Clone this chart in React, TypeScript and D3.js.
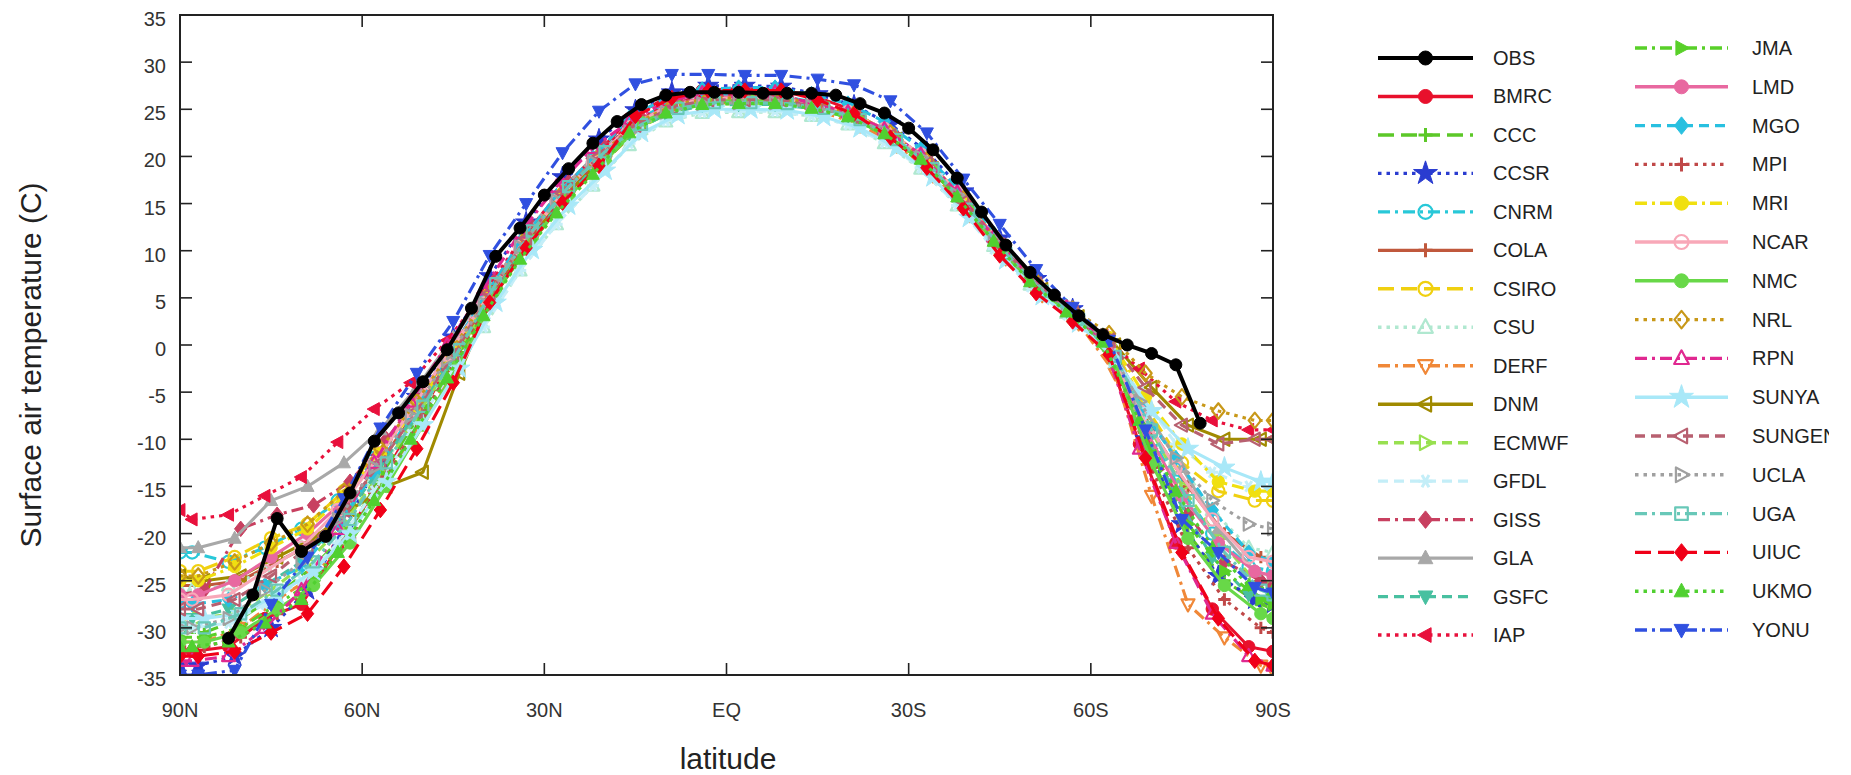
import React from "react";
import * as d3 from "d3";

// ---------- axes ----------
const X_TICKS = [90, 60, 30, 0, -30, -60, -90];
const X_TICK_LABELS = ["90N", "60N", "30N", "EQ", "30S", "60S", "90S"];
const Y_TICKS = [35, 30, 25, 20, 15, 10, 5, 0, -5, -10, -15, -20, -25, -30, -35];

// ---------- latitude grids ----------
const LAT_OBS = [82, 78, 74, 70, 66, 62, 58, 54, 50, 46, 42, 38, 34, 30, 26, 22, 18, 14, 10, 6, 2, -2, -6, -10, -14, -18, -22, -26, -30, -34, -38, -42, -46, -50, -54, -58, -62, -66, -70, -74, -78];
const LAT_GA = [90, 88, 82, 76, 70, 64, 58, 52, 46, 40, 34, 28, 22, 16, 10, 4, -2, -8, -14, -20, -26, -32, -38, -44, -50, -56, -62, -68, -74, -80, -86, -90];
const LAT_GB = [90, 86, 80, 74, 68, 62, 56, 50, 44, 38, 32, 26, 20, 14, 8, 2, -4, -10, -16, -22, -28, -34, -40, -46, -52, -58, -64, -70, -76, -82, -88, -90];
const LAT_GC = [90, 87, 81, 75, 69, 63, 57, 51, 45, 39, 33, 27, 21, 15, 9, 3, -3, -9, -15, -21, -27, -33, -39, -45, -51, -57, -63, -69, -75, -81, -87, -90];

// ---------- values (Surface air temperature, C) ----------
const OBS = [-31.1, -26.5, -18.4, -21.9, -20.3, -15.7, -10.2, -7.2, -3.9, -0.5, 3.9, 9.4, 12.4, 15.9, 18.7, 21.4, 23.7, 25.5, 26.5, 26.8, 26.8, 26.8, 26.7, 26.7, 26.7, 26.5, 25.6, 24.6, 23.0, 20.7, 17.7, 14.1, 10.6, 7.7, 5.3, 3.1, 1.1, 0.0, -0.9, -2.1, -8.3];
const BMRC = [-32.5, -32.5, -32, -29, -27.5, -21.5, -15.5, -9, -2.5, 4, 10, 15.3, 19.8, 24, 26.2, 27, 27.2, 27.1, 26.5, 25.1, 22.6, 19.7, 15.7, 11, 6.8, 3.6, 0.5, -10.5, -21, -28, -32, -32.5];
const CCC = [-30.5, -30.5, -29, -26.5, -23.5, -19.5, -13, -7, -0.8, 5.5, 11, 15.8, 19.6, 23.2, 25, 25.7, 25.7, 25.6, 25, 23.6, 21.4, 18.2, 13.9, 9.3, 5.5, 2.6, -1.5, -12, -20, -25, -27.5, -28];
const CCSR = [-34, -34, -33, -30, -26, -19.5, -12, -5.5, 0.8, 7.3, 13, 17.8, 21.8, 24.9, 26.8, 27.5, 27.5, 27.4, 26.6, 25.4, 23.4, 20.5, 16.3, 11.3, 7, 3.8, 0.3, -10, -19, -24.5, -27, -27.5];
const CNRM = [-22, -22, -23, -21.5, -19.5, -16.5, -12, -6.8, -1.2, 4.4, 10.4, 15.3, 19.4, 23.4, 25.5, 26.4, 26.5, 26.5, 25.8, 24.7, 22.8, 20, 16, 11.3, 7, 3.8, 0.8, -7.5, -14.5, -20, -23.5, -24];
const COLA = [-25.5, -25.5, -25, -23, -21, -17, -11.5, -6, 0.2, 6, 11.6, 16.3, 20, 23.7, 25.4, 26, 26, 25.9, 25.1, 23.9, 21.7, 18.6, 14.3, 9.6, 5.7, 2.8, -1, -9, -15, -20, -22.5, -23];
const CSIRO = [-24, -24, -22.5, -20.5, -19, -15.5, -11, -6, -0.5, 5.2, 11, 15.8, 19.7, 23.1, 25, 25.8, 25.8, 25.8, 25.2, 24.2, 22.2, 19.3, 15.3, 10.6, 6.5, 3.5, 0.5, -6.5, -12.5, -15.5, -16.5, -16.5];
const CSU = [-26, -26, -25.5, -24, -21.5, -18.5, -14, -8.5, -2.8, 1.9, 7.9, 12.8, 16.9, 21.2, 23.7, 24.6, 24.7, 24.7, 24.3, 23.4, 21.4, 18.7, 14.8, 10.5, 6.4, 3.4, 0.4, -6, -12, -17.5, -21.5, -22];
const DERF = [-31.5, -31.5, -30, -27, -24.5, -20, -14, -8, -1.5, 5.5, 11.1, 15.8, 19.5, 23.4, 25.1, 25.7, 25.7, 25.6, 24.7, 23.3, 21.2, 18, 13.8, 9.2, 5.3, 2.3, -3, -16, -27.5, -31, -34, -34.5];
const DNM = [-24.5, -25, -24.5, -22.5, -20.5, -17.5, -15, -13.5, -3, 6, 11.6, 16.3, 20, 23.5, 25.2, 25.8, 25.8, 25.7, 25.1, 23.9, 21.8, 18.7, 14.4, 9.8, 5.9, 3, 0, -4.5, -8.5, -10, -10, -10];
const ECMWF = [-29, -29, -28.5, -26, -23, -19, -13.5, -7.5, -1.5, 4.5, 10.3, 15.1, 19, 22.9, 24.8, 25.6, 25.6, 25.6, 25, 24, 22, 19.1, 15, 10.3, 6.1, 3.1, 0, -8, -15, -20.5, -25, -25.5];
const GFDL = [-30, -30, -29.5, -27.5, -25, -21, -15.5, -9.5, -3.5, 1.9, 7.9, 12.8, 16.9, 21.4, 23.8, 24.7, 24.8, 24.8, 24.3, 23.4, 21.5, 18.8, 14.8, 10.2, 6.2, 3.2, 0.2, -5, -10.5, -13.5, -15, -15];
const GISS = [-26.5, -26, -19.5, -18, -17, -14.5, -10, -5, 0.8, 7, 12.6, 17.3, 21, 24.1, 25.8, 26.4, 26.4, 26.3, 25.4, 24.2, 22.1, 19, 14.7, 10, 6, 3, -1, -11, -18, -23, -25, -25.5];
const GLA = [-21.5, -21.5, -20.5, -16.5, -15, -12.5, -9, -4.5, 0.8, 6, 11.8, 16.6, 20.5, 23.3, 25.2, 26, 26, 26, 25.5, 24.5, 22.5, 19.6, 15.5, 10.8, 6.6, 3.5, 0.3, -7, -13, -19.5, -24, -24.5];
const GSFC = [-29, -29, -28, -25.5, -23, -19, -14, -8, -2, 3.7, 9.7, 14.6, 18.7, 22.4, 24.5, 25.4, 25.5, 25.5, 25.1, 24.2, 22.4, 19.7, 15.7, 11, 6.8, 3.6, 0.5, -8, -16, -22.5, -26.5, -27];
const IAP = [-17.5, -18.5, -18, -16, -14, -10.3, -6.8, -4, 0.5, 5.5, 11, 15.8, 19.8, 23.3, 25.4, 26.4, 26.5, 26.5, 25.4, 24.4, 22.6, 19.9, 15.9, 11.2, 7, 3.8, 1, -2.5, -6, -8, -9, -9];
const JMA = [-31, -31, -30, -27.5, -25, -20, -14, -7.5, -1, 5.5, 11.1, 15.8, 19.5, 23.5, 25.2, 25.8, 25.8, 25.7, 24.9, 23.7, 21.6, 18.5, 14.2, 9.5, 5.5, 2.5, -1.5, -11.5, -19, -24, -27, -27.5];
const LMD = [-26.5, -26.5, -25, -22.5, -20, -16.5, -11.5, -6, 0, 5.5, 11.3, 16.1, 20, 23.6, 25.5, 26.3, 26.3, 26.3, 25.5, 24.5, 22.5, 19.6, 15.5, 10.8, 6.6, 3.5, 0, -9, -16, -21, -24, -24.5];
const MGO = [-27.5, -27.5, -27, -25.5, -23.5, -19, -13.5, -7.5, -1.2, 4.9, 10.9, 15.8, 19.9, 24.1, 26.2, 27.1, 27.3, 27.3, 26.6, 25.6, 23.7, 20.8, 16.6, 11.8, 7.4, 4.1, 1, -6.5, -12, -17.5, -22, -23];
const MPI = [-32, -32, -31, -28.5, -25.5, -20.5, -14, -7.5, -1, 6.2, 11.8, 16.5, 20.2, 24, 25.7, 26.3, 26.3, 26.2, 25.1, 23.9, 21.8, 18.7, 14.4, 9.7, 5.7, 2.7, -2, -13, -21.5, -27, -30, -30.5];
const MRI = [-25, -25, -23.5, -21.5, -19.5, -16, -11.5, -6.5, -0.8, 5.5, 11.3, 16.1, 20, 23.3, 25.2, 26, 26, 26, 25.5, 24.5, 22.5, 19.6, 15.5, 10.8, 6.6, 3.5, 0.8, -5.5, -10.5, -14.5, -15.5, -15.5];
const NCAR = [-27, -27, -26.5, -24, -21.5, -17.5, -12.5, -7, -1, 4.4, 10.4, 15.3, 19.4, 23.1, 25.2, 26.1, 26.2, 26.2, 25.6, 24.7, 22.9, 20.2, 16.2, 11.5, 7.2, 4, 1, -7, -13, -18.5, -22.5, -23];
const NMC = [-31.5, -31.5, -30.5, -28, -25.5, -21, -15, -8.5, -2, 5.5, 11.1, 15.8, 19.5, 23.6, 25.3, 25.9, 25.9, 25.8, 24.9, 23.7, 21.6, 18.5, 14.2, 9.5, 5.5, 2.5, -2, -12.5, -20.5, -25.5, -28.5, -29];
const NRL = [-24.5, -24.5, -23, -21, -19, -15.5, -11, -6, -0.3, 5.5, 11.3, 16.1, 20, 23.5, 25.4, 26.2, 26.2, 26.2, 25.5, 24.5, 22.5, 19.6, 15.5, 10.8, 6.8, 3.8, 1.2, -3, -5.5, -7, -8, -8];
const RPN = [-33.5, -33.5, -33, -30, -26, -19.5, -12.5, -6, 0, 5.9, 11.9, 16.8, 20.9, 23.7, 25.8, 26.7, 26.8, 26.8, 25.6, 24.7, 22.9, 20.2, 16.2, 11.5, 7.2, 4, 0.5, -11, -21, -28.5, -33, -34];
const SUNYA = [-29, -29, -28.5, -26.5, -24, -20, -14.5, -8.5, -2.5, 4.5, 10.1, 14.8, 18.5, 22.5, 24.4, 25, 25, 24.9, 24.2, 23, 20.9, 17.8, 13.5, 9, 5.2, 2.3, -1.5, -7, -11, -13, -14.5, -14.5];
const SUNGEN = [-28, -28, -27, -24.5, -21.5, -17.5, -12.5, -7, -1, 5.5, 11.3, 16.1, 20, 23.3, 25.2, 26, 26, 26, 25.2, 24.2, 22.2, 19.3, 15.2, 10.6, 6.5, 3.5, 0.5, -4.5, -8.5, -10.5, -10, -10];
const UCLA = [-30, -30, -29, -26, -23, -18.5, -13, -7.5, -1.5, 4.4, 10.4, 15.3, 19.4, 22.6, 24.7, 25.6, 25.7, 25.7, 25.3, 24.4, 22.6, 19.9, 15.9, 11.2, 7, 3.8, 0.8, -6, -12, -16.5, -19, -19.5];
const UGA = [-30, -30, -28.5, -26, -23, -18.5, -12.5, -6.5, -0.5, 6.5, 12.1, 16.8, 20.5, 23.4, 25.1, 25.7, 25.7, 25.6, 25.1, 23.9, 21.8, 18.7, 14.4, 9.7, 5.7, 2.7, -1.2, -9, -16.5, -22, -26, -26.5];
const UIUC = [-33, -33, -32.5, -30.5, -28.5, -23.5, -17.5, -11, -4, 4.5, 10.3, 15.1, 19, 24.3, 26.2, 27, 27, 27, 26, 24.5, 22, 18.8, 14.5, 9.5, 5.5, 2.5, -1, -12, -22, -29, -33.5, -34];
const UKMO = [-32, -32, -31.5, -29.5, -27, -22, -16.5, -10, -3.5, 3.1, 9.1, 14, 18.1, 22.5, 24.6, 25.5, 25.6, 25.6, 25.1, 24.2, 22.4, 19.7, 15.7, 11, 6.7, 3.5, 0.3, -8, -15.5, -21.5, -25.5, -26];
const YONU = [-35, -35, -34.5, -27.5, -22.5, -16.3, -8.8, -3, 2.5, 9.5, 15, 20.4, 24.8, 27.7, 28.7, 28.7, 28.6, 28.6, 28.2, 27.6, 25.9, 22.5, 17.6, 12.8, 8, 4, 0.5, -9, -18.5, -22, -25.7, -26.3];

type Series = { name: string; lat: number[]; val: number[]; color: string; dash: string; marker: string; filled: boolean; width?: number };

const SERIES: Series[] = [
  { name: "OBS", lat: LAT_OBS, val: OBS, color: "#000000", dash: "solid", marker: "circle", filled: true, width: 4 },
  { name: "BMRC", lat: LAT_GA, val: BMRC, color: "#e8102c", dash: "solid", marker: "circle", filled: true },
  { name: "CCC", lat: LAT_GB, val: CCC, color: "#5cc828", dash: "longdash", marker: "plus", filled: false },
  { name: "CCSR", lat: LAT_GC, val: CCSR, color: "#2a3cd0", dash: "dotted", marker: "star", filled: true },
  { name: "CNRM", lat: LAT_GA, val: CNRM, color: "#28c8d8", dash: "dotdash", marker: "circle", filled: false },
  { name: "COLA", lat: LAT_GB, val: COLA, color: "#c0583c", dash: "solid", marker: "plus", filled: false },
  { name: "CSIRO", lat: LAT_GC, val: CSIRO, color: "#f0d010", dash: "longdash", marker: "circle", filled: false },
  { name: "CSU", lat: LAT_GA, val: CSU, color: "#b0e8d0", dash: "dotted", marker: "triUp", filled: false },
  { name: "DERF", lat: LAT_GB, val: DERF, color: "#f08838", dash: "dotdash", marker: "triDown", filled: false },
  { name: "DNM", lat: LAT_GB, val: DNM, color: "#a08a00", dash: "solid", marker: "triLeft", filled: false },
  { name: "ECMWF", lat: LAT_GC, val: ECMWF, color: "#98e050", dash: "dashed", marker: "triRight", filled: false },
  { name: "GFDL", lat: LAT_GA, val: GFDL, color: "#c4eef8", dash: "dashed", marker: "asterisk", filled: false },
  { name: "GISS", lat: LAT_GB, val: GISS, color: "#c84060", dash: "dotdash", marker: "diamond", filled: true },
  { name: "GLA", lat: LAT_GC, val: GLA, color: "#a8a8a8", dash: "solid", marker: "triUp", filled: true },
  { name: "GSFC", lat: LAT_GA, val: GSFC, color: "#48c0a0", dash: "dashed", marker: "triDown", filled: true },
  { name: "IAP", lat: LAT_GA, val: IAP, color: "#e8103c", dash: "dotted", marker: "triLeft", filled: true },
  { name: "JMA", lat: LAT_GB, val: JMA, color: "#58d028", dash: "dotdash", marker: "triRight", filled: true },
  { name: "LMD", lat: LAT_GC, val: LMD, color: "#e868a0", dash: "solid", marker: "circle", filled: true },
  { name: "MGO", lat: LAT_GA, val: MGO, color: "#28c0e0", dash: "dashed", marker: "diamond", filled: true },
  { name: "MPI", lat: LAT_GB, val: MPI, color: "#c04848", dash: "dotted", marker: "plus", filled: false },
  { name: "MRI", lat: LAT_GC, val: MRI, color: "#f0e010", dash: "dotdash", marker: "circle", filled: true },
  { name: "NCAR", lat: LAT_GA, val: NCAR, color: "#f8a8b8", dash: "solid", marker: "circle", filled: false },
  { name: "NMC", lat: LAT_GB, val: NMC, color: "#68d848", dash: "solid", marker: "circle", filled: true },
  { name: "NRL", lat: LAT_GC, val: NRL, color: "#c89818", dash: "dotted", marker: "diamond", filled: false },
  { name: "RPN", lat: LAT_GA, val: RPN, color: "#e02890", dash: "dotdash", marker: "triUp", filled: false },
  { name: "SUNYA", lat: LAT_GB, val: SUNYA, color: "#a8e8f8", dash: "solid", marker: "star", filled: true },
  { name: "SUNGEN", lat: LAT_GC, val: SUNGEN, color: "#b86070", dash: "dashed", marker: "triLeft", filled: false },
  { name: "UCLA", lat: LAT_GA, val: UCLA, color: "#a0a0a0", dash: "dotted", marker: "triRight", filled: false },
  { name: "UGA", lat: LAT_GB, val: UGA, color: "#68c8b8", dash: "dotdash", marker: "square", filled: false },
  { name: "UIUC", lat: LAT_GC, val: UIUC, color: "#f00018", dash: "longdash", marker: "diamond", filled: true },
  { name: "UKMO", lat: LAT_GA, val: UKMO, color: "#50d030", dash: "dotted", marker: "triUp", filled: true },
  { name: "YONU", lat: LAT_GC, val: YONU, color: "#3050e0", dash: "dotdash", marker: "triDown", filled: true },
];

const W = 1851;
const H = 775;
const BOX = { left: 180, right: 1273, top: 15, bottom: 675 };
const FONT = "'Liberation Sans', Arial, Helvetica, sans-serif";

function dashArray(style: string): string | undefined {
  switch (style) {
    case "longdash": return "16,7";
    case "dashed": return "10,6";
    case "dotdash": return "12,5,3,5";
    case "dotted": return "3.5,5";
    default: return undefined;
  }
}

function markerD(kind: string, r: number): string {
  switch (kind) {
    case "circle": return `M${r},0A${r},${r} 0 1,1 ${-r},0A${r},${r} 0 1,1 ${r},0Z`;
    case "plus": return `M${-r},0H${r}M0,${-r}V${r}`;
    case "diamond": return `M0,${-1.25 * r}L${r},0L0,${1.25 * r}L${-r},0Z`;
    case "square": { const s = 0.9 * r; return `M${-s},${-s}H${s}V${s}H${-s}Z`; }
    case "triUp": return `M0,${-1.15 * r}L${1.05 * r},${0.8 * r}L${-1.05 * r},${0.8 * r}Z`;
    case "triDown": return `M0,${1.15 * r}L${1.05 * r},${-0.8 * r}L${-1.05 * r},${-0.8 * r}Z`;
    case "triLeft": return `M${-1.15 * r},0L${0.8 * r},${-1.05 * r}L${0.8 * r},${1.05 * r}Z`;
    case "triRight": return `M${1.15 * r},0L${-0.8 * r},${-1.05 * r}L${-0.8 * r},${1.05 * r}Z`;
    case "star": return d3.symbol().type(d3.symbolStar).size(r * r * 3.6)() as string;
    case "asterisk": return `M${-r},0H${r}M${-r * 0.5},${-r * 0.87}L${r * 0.5},${r * 0.87}M${r * 0.5},${-r * 0.87}L${-r * 0.5},${r * 0.87}`;
    default: return "";
  }
}

function Marker({ kind, r, color, filled, x, y }: { kind: string; r: number; color: string; filled: boolean; x: number; y: number }) {
  const lineOnly = kind === "plus" || kind === "asterisk";
  return (
    <path
      transform={`translate(${x},${y})`}
      d={markerD(kind, r)}
      fill={filled && !lineOnly ? color : "none"}
      stroke={color}
      strokeWidth={lineOnly ? 3 : filled ? 1 : 2.2}
      strokeLinejoin="round"
    />
  );
}

export default function App() {
  const x = d3.scaleLinear().domain([90, -90]).range([BOX.left, BOX.right]);
  const y = d3.scaleLinear().domain([-35, 35]).range([BOX.bottom, BOX.top]);
  const line = d3.line<[number, number]>().x((d) => x(d[0])).y((d) => y(d[1]));

  const models = SERIES.slice(1);
  const obs = SERIES[0];
  const pts = (s: Series): [number, number][] =>
    s.lat.map((l, i) => [l, s.val[i]] as [number, number]).filter((p) => p[1] !== undefined);

  const renderSeries = (s: Series) => {
    const p = pts(s);
    return (
      <g key={s.name}>
        <path d={line(p) || ""} fill="none" stroke={s.color} strokeWidth={s.width ?? 3.1} strokeDasharray={dashArray(s.dash)} strokeLinejoin="round" />
        {p.map((d, i) => (
          <Marker key={i} kind={s.marker} r={s.name === "OBS" ? 6 : 6.2} color={s.color} filled={s.filled} x={x(d[0])} y={y(d[1])} />
        ))}
      </g>
    );
  };

  const col1 = SERIES.slice(0, 16);
  const col2 = SERIES.slice(16);
  const legendCols = [
    { items: col1, x1: 1378, x2: 1473, tx: 1493, y0: 58, dy: 38.47 },
    { items: col2, x1: 1635, x2: 1728, tx: 1752, y0: 48, dy: 38.8 },
  ];

  const tickLen = 12;

  return (
    <svg width={W} height={H} style={{ position: "absolute", left: 0, top: 0, background: "#fff" }} fontFamily={FONT}>
      <defs>
        <clipPath id="plotClip">
          <rect x={BOX.left} y={BOX.top} width={BOX.right - BOX.left} height={BOX.bottom - BOX.top} />
        </clipPath>
        <clipPath id="legClip">
          <rect x={0} y={0} width={1829} height={H} />
        </clipPath>
      </defs>
      <rect x={0} y={0} width={W} height={H} fill="#fff" />

      <g clipPath="url(#plotClip)">
        {models.map(renderSeries)}
        {renderSeries(obs)}
      </g>

      {/* frame */}
      <rect x={BOX.left} y={BOX.top} width={BOX.right - BOX.left} height={BOX.bottom - BOX.top} fill="none" stroke="#222" strokeWidth={2} />

      {/* x ticks */}
      {X_TICKS.map((t, i) => (
        <g key={"xt" + t}>
          <line x1={x(t)} x2={x(t)} y1={BOX.bottom} y2={BOX.bottom - tickLen} stroke="#222" strokeWidth={1.6} />
          <line x1={x(t)} x2={x(t)} y1={BOX.top} y2={BOX.top + tickLen} stroke="#222" strokeWidth={1.6} />
          <text x={x(t)} y={717} textAnchor="middle" fontSize={20} fill="#333">{X_TICK_LABELS[i]}</text>
        </g>
      ))}

      {/* y ticks */}
      {Y_TICKS.map((t) => (
        <g key={"yt" + t}>
          <line x1={BOX.left} x2={BOX.left + tickLen} y1={y(t)} y2={y(t)} stroke="#222" strokeWidth={1.6} />
          <line x1={BOX.right} x2={BOX.right - tickLen} y1={y(t)} y2={y(t)} stroke="#222" strokeWidth={1.6} />
          <text x={166} y={y(t) + 11} textAnchor="end" fontSize={20} fill="#333">{t}</text>
        </g>
      ))}

      {/* axis labels */}
      <text x={728} y={769} textAnchor="middle" fontSize={30} fill="#222">latitude</text>
      <text transform="translate(41,365) rotate(-90)" textAnchor="middle" fontSize={30} fill="#222">Surface air temperature (C)</text>

      {/* legend */}
      <g clipPath="url(#legClip)">
        {legendCols.map((c, ci) =>
          c.items.map((s, i) => {
            const yy = c.y0 + i * c.dy;
            const mx = (c.x1 + c.x2) / 2;
            return (
              <g key={"lg" + ci + s.name}>
                <line x1={c.x1} x2={c.x2} y1={yy} y2={yy} stroke={s.color} strokeWidth={s.width ?? 3.4} strokeDasharray={dashArray(s.dash)} />
                <Marker kind={s.marker} r={7} color={s.color} filled={s.filled} x={mx} y={yy} />
                <text x={c.tx} y={yy + 7} fontSize={20} fill="#222">{s.name}</text>
              </g>
            );
          })
        )}
      </g>
    </svg>
  );
}
